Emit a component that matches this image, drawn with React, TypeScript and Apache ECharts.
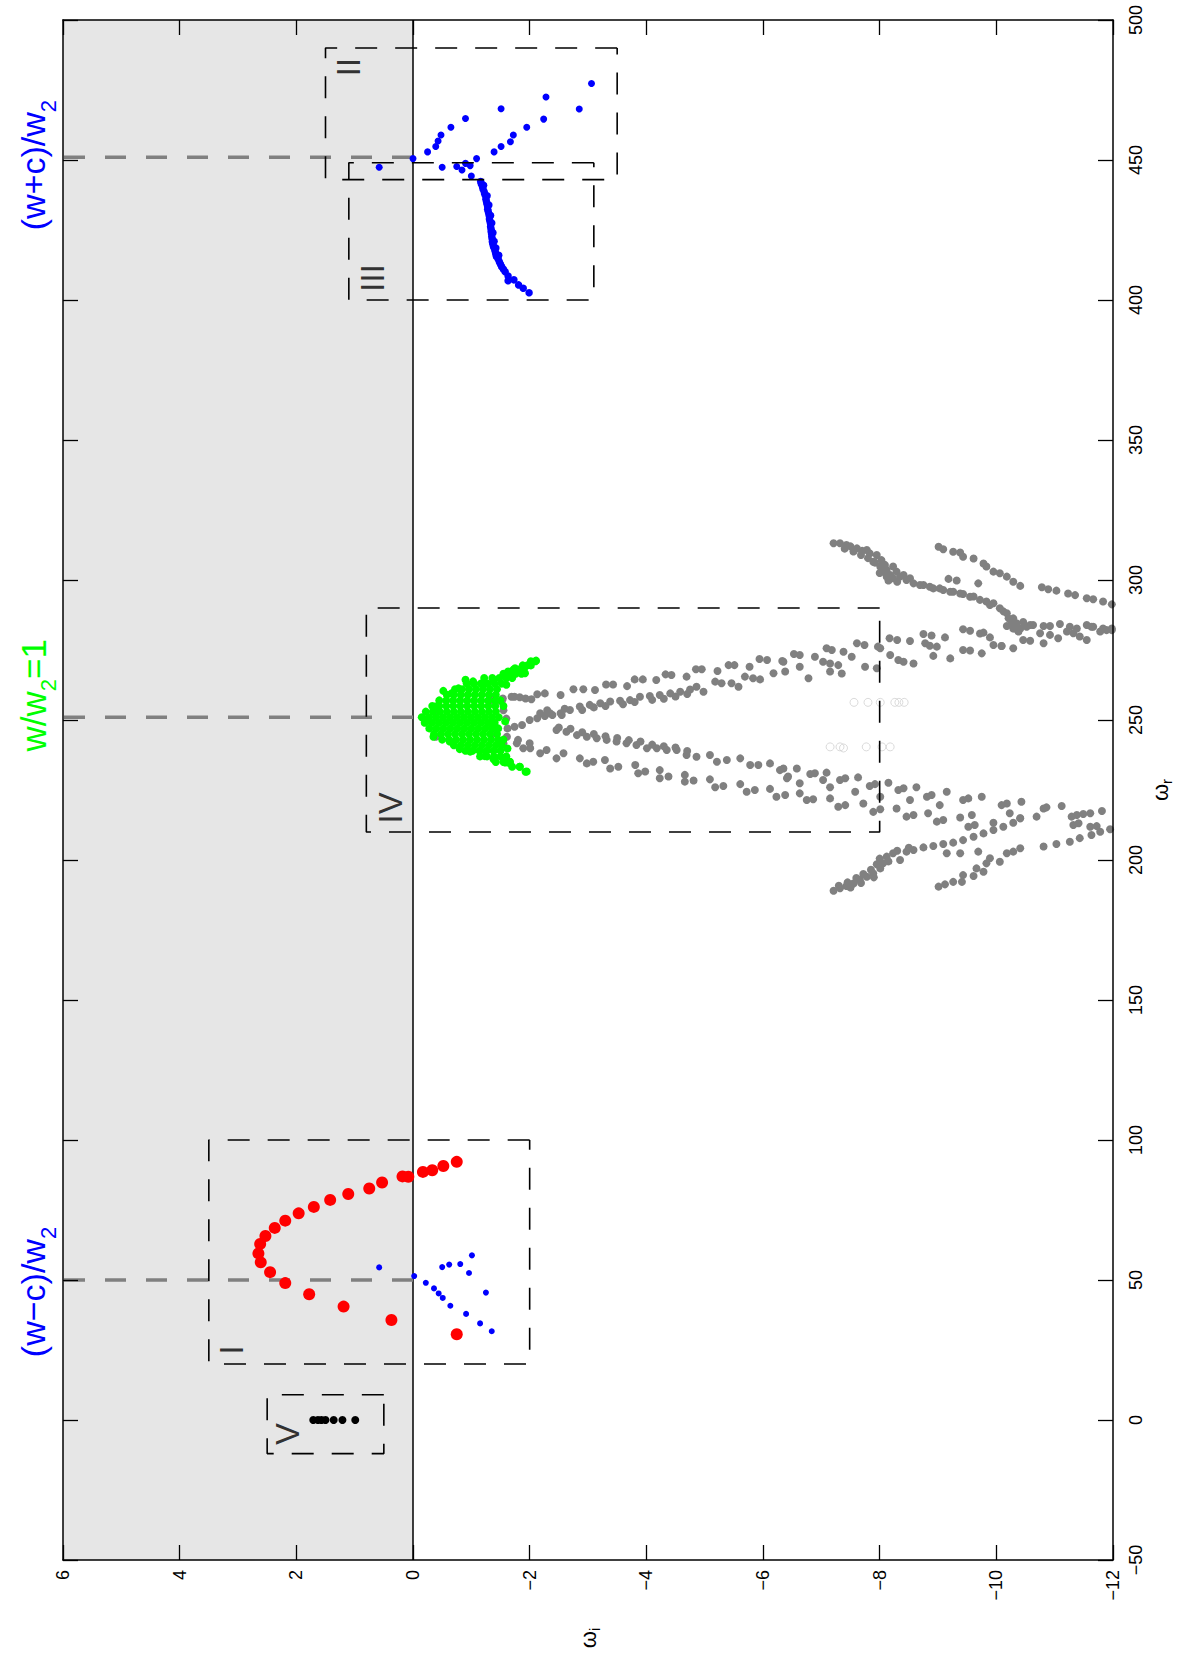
import React, { useEffect, useRef } from 'react';
import * as echarts from 'echarts';

const FONT = '"Liberation Sans", Arial, Helvetica, sans-serif';

// axis ranges (omega_i horizontal, omega_r vertical)
const omegaIRange = [-12, 6];
const omegaRRange = [-50, 500];
const omegaITicks = [-12, -10, -8, -6, -4, -2, 0, 2, 4, 6];
const omegaRTicks = [-50, 0, 50, 100, 150, 200, 250, 300, 350, 400, 450, 500];

// [omega_i, omega_r]
const redPoints = [
  [-0.75, 92.2], [-0.52, 90.7], [-0.33, 89.2], [-0.17, 88.6], [0.08, 86.9], [0.18, 87.0], [0.53, 84.8],
  [0.75, 82.7], [1.11, 80.7], [1.42, 78.6], [1.7, 76.1], [1.96, 73.8], [2.19, 71.2], [2.37, 68.6],
  [2.53, 65.7], [2.62, 62.9], [2.65, 59.5], [2.61, 56.3], [2.45, 52.8], [2.19, 48.9], [1.78, 44.9],
  [1.19, 40.5], [0.37, 35.7], [-0.75, 30.6],
];

const blueIPoints = [
  [0.58, 54.5], [-0.02, 51.4], [-0.22, 49.0], [-0.36, 47.0], [-0.44, 45.2], [-0.51, 43.6], [-0.64, 40.8],
  [-0.91, 37.9], [-1.15, 34.5], [-1.35, 31.7], [-0.5, 54.6], [-0.62, 55.5], [-0.81, 55.7], [-1.01, 58.8],
  [-0.96, 52.5], [-1.25, 45.5],
];

const blackVPoints = [[1.71, 0], [1.63, 0], [1.57, 0], [1.5, 0], [1.36, 0], [1.21, 0], [0.99, 0]];

const blueIIPoints = [
  [0.58, 447.4], [0.0, 450.5], [-0.25, 452.9], [-0.39, 454.8], [-0.43, 456.8], [-0.48, 458.9], [-0.65, 461.7],
  [-0.9, 464.8], [-1.51, 468.3], [-2.28, 472.5], [-3.06, 477.3], [-2.85, 468.2], [-2.24, 464.6], [-1.95, 461.7],
  [-1.72, 458.9], [-1.67, 456.5], [-1.51, 454.8], [-1.39, 452.9], [-1.09, 450.5], [-0.9, 448.8], [-0.98, 448.0],
  [-0.84, 446.4], [-0.75, 447.7], [-0.5, 447.4], [-1.0, 444.3],
];

const blueIIIPoints = [
  [-1.16, 442.3], [-1.17, 441.5], [-1.19, 440.5], [-1.2, 439.6], [-1.22, 438.7], [-1.23, 437.8], [-1.25, 436.9],
  [-1.25, 436.0], [-1.26, 435.1], [-1.27, 434.2], [-1.28, 433.3], [-1.28, 432.4], [-1.29, 431.6], [-1.3, 430.7],
  [-1.31, 429.8], [-1.31, 428.9], [-1.32, 428.0], [-1.33, 427.1], [-1.33, 426.2], [-1.34, 425.3], [-1.34, 424.4],
  [-1.35, 423.5], [-1.35, 422.6], [-1.36, 421.7], [-1.36, 420.8], [-1.37, 419.9], [-1.38, 419.0], [-1.4, 418.1],
  [-1.41, 417.3], [-1.42, 416.4], [-1.43, 415.5], [-1.46, 414.6], [-1.48, 413.7], [-1.5, 412.8], [-1.52, 411.9],
  [-1.55, 411.0], [-1.58, 410.1], [-1.63, 408.6], [-1.63, 406.9], [-1.73, 407.2], [-1.81, 405.4], [-1.89, 404.2],
  [-1.99, 402.6], [-1.21, 441.0], [-1.27, 437.2], [-1.3, 433.9], [-1.33, 430.2], [-1.35, 427.5], [-1.37, 424.0],
  [-1.39, 421.0], [-1.42, 418.6], [-1.47, 416.0],
];

const faintCircles = [
  [-7.56, 256.3], [-7.8, 256.3], [-8.01, 256.3], [-8.26, 256.3], [-8.33, 256.3], [-8.42, 256.3],
  [-7.15, 240.4], [-7.32, 240.4], [-7.38, 240.0], [-7.77, 240.4], [-8.04, 240.4], [-8.18, 240.4],
];

// green cluster, rows of [omega_r, omega_i list]
const greenRows: [number, number[]][] = [
  [271, [-2.1, -2.02]],
  [269.5, [-1.88, -1.96, -2.02]],
  [268, [-1.72, -1.82, -1.9]],
  [266.5, [-1.55, -1.66, -1.76, -1.86]],
  [265, [-1.22, -1.36, -1.48, -1.6, -1.7]],
  [263, [-0.92, -1.04, -1.16, -1.28, -1.4, -1.52]],
  [261, [-0.72, -0.84, -0.96, -1.08, -1.2, -1.32, -1.44]],
  [259, [-0.58, -0.7, -0.82, -0.94, -1.06, -1.18, -1.3, -1.42]],
  [257, [-0.45, -0.57, -0.69, -0.81, -0.93, -1.05, -1.17, -1.29, -1.41, -1.5]],
  [255, [-0.33, -0.45, -0.57, -0.69, -0.81, -0.93, -1.05, -1.17, -1.29, -1.41]],
  [253, [-0.22, -0.34, -0.46, -0.58, -0.7, -0.82, -0.94, -1.06, -1.18, -1.3, -1.42]],
  [251, [-0.15, -0.27, -0.39, -0.51, -0.63, -0.75, -0.87, -0.99, -1.11, -1.23, -1.35, -1.47]],
  [249, [-0.2, -0.32, -0.44, -0.56, -0.68, -0.8, -0.92, -1.04, -1.16, -1.28, -1.4]],
  [247, [-0.28, -0.4, -0.52, -0.64, -0.76, -0.88, -1.0, -1.12, -1.24, -1.36, -1.46]],
  [245, [-0.36, -0.48, -0.6, -0.72, -0.84, -0.96, -1.08, -1.2, -1.32, -1.44]],
  [243, [-0.5, -0.62, -0.74, -0.86, -0.98, -1.1, -1.22, -1.34, -1.46, -1.55]],
  [241, [-0.7, -0.82, -0.94, -1.06, -1.18, -1.3, -1.42, -1.52]],
  [239, [-0.9, -1.02, -1.14, -1.26, -1.38, -1.5]],
  [237, [-1.15, -1.27, -1.39, -1.5, -1.6]],
  [235, [-1.42, -1.55, -1.66]],
  [233.3, [-1.7, -1.83]],
  [231.5, [-1.93]],
];
// ragged edge points of the green cluster
const greenEdge = [
  [-2.11, 271.2], [-1.99, 269.7], [-1.92, 266.7], [-1.75, 268.5], [-1.63, 267.3], [-1.38, 264.3], [-1.23, 263.1],
  [-1.03, 263.8], [-0.78, 261.3], [-0.66, 259.5], [-0.38, 254.8], [-1.38, 247.9], [-1.35, 248.2], [-1.49, 241.7],
  [-0.98, 238.7], [-1.23, 237.1], [-1.38, 236.0], [-1.58, 234.8], [-1.66, 234.5], [-1.83, 233.3], [-1.95, 231.6],
  [-1.66, 235.1], [-0.63, 242.3], [-0.35, 244.0], [-1.55, 255.0], [-1.58, 249.5], [-0.52, 260.4], [-0.9, 264.4],
  [-1.6, 262.6], [-1.62, 239.8], [-0.8, 239.6],
];

const grayVertex = [
  [-1.74, 247.6], [-1.87, 248.2], [-2.0, 250.0], [-2.13, 250.6], [-2.26, 251.4], [-2.39, 251.8], [-2.53, 252.4],
  [-1.41, 245.2], [-1.61, 244.0], [-1.8, 242.9], [-2.0, 241.7], [-0.39, 244.0], [-0.23, 250.0], [-0.36, 253.0],
  [-1.34, 258.3], [-1.54, 257.7], [-1.74, 258.3], [-1.93, 257.7], [-1.6, 250.5], [-1.55, 253.5], [-1.62, 247.0],
];

const grayUpperA = [
  [-1.34, 257.1], [-1.52, 256.6], [-1.69, 258.3], [-1.83, 258.1], [-2.03, 257.4], [-2.13, 259.2], [-2.26, 259.5],
  [-2.53, 258.9], [-2.75, 261.0], [-2.92, 261.0], [-3.12, 260.7], [-3.31, 262.7], [-3.43, 262.7], [-3.67, 262.1],
  [-3.8, 264.5], [-3.94, 264.5], [-4.17, 264.3], [-4.33, 266.3], [-4.43, 266.1], [-4.69, 265.5], [-4.85, 268.1],
  [-4.95, 268.1], [-5.22, 267.5], [-5.41, 269.6], [-5.51, 269.6], [-5.77, 269.0], [-5.94, 271.8], [-6.07, 271.4],
  [-6.33, 271.1], [-6.53, 273.6], [-6.63, 273.2], [-6.89, 272.6], [-7.09, 275.6], [-7.18, 275.0], [-7.38, 274.4],
  [-7.61, 277.4], [-7.74, 276.8], [-7.97, 276.2], [-8.17, 279.2], [-8.3, 278.6], [-8.52, 278.2], [-8.75, 280.7],
  [-8.89, 280.2], [-9.12, 279.5], [-9.43, 282.4], [-9.55, 281.9], [-9.78, 281.2], [-10.18, 283.6], [-10.29, 282.7],
];

const grayUpperMid = [
  [-6.35, 270.8], [-6.63, 269.0], [-7.03, 270.8], [-7.15, 270.2], [-7.29, 269.6], [-7.52, 272.6], [-8.01, 275.6],
  [-8.18, 273.2], [-8.32, 271.4], [-8.78, 277.4], [-8.86, 276.5], [-8.98, 276.2], [-9.43, 275.0], [-9.72, 280.9],
  [-9.89, 279.5], [-9.95, 276.8], [-10.09, 276.4], [-10.46, 278.6], [-10.58, 278.3],
];

const grayUpperC = [
  [-2.18, 252.4], [-2.35, 252.4], [-2.55, 251.8], [-2.69, 253.6], [-2.86, 254.8], [-3.03, 255.4], [-3.21, 256.0],
  [-3.38, 256.6], [-3.55, 256.9], [-3.72, 257.1], [-3.89, 258.3], [-4.06, 258.6], [-4.23, 258.9], [-4.41, 259.5],
  [-4.58, 260.1], [-4.75, 260.9], [-4.86, 261.9], [-4.98, 260.1],
  [-2.3, 253.5], [-2.6, 254.0], [-2.9, 253.6], [-3.1, 254.5], [-3.3, 255.0], [-3.6, 255.6], [-3.8, 256.4],
  [-4.1, 257.2], [-4.3, 257.6], [-4.5, 258.4], [-4.7, 259.3],
  [-5.18, 263.7], [-5.29, 263.1], [-5.46, 263.1], [-5.58, 261.9], [-5.69, 265.5], [-5.83, 264.9], [-5.95, 264.5],
  [-6.18, 266.7], [-6.38, 267.3], [-6.78, 264.9], [-7.15, 267.3], [-7.35, 266.6], [-7.75, 269.0], [-7.95, 268.5],
  [-8.41, 270.8], [-8.58, 270.2], [-8.92, 272.9], [-9.21, 272.0], [-9.55, 274.8], [-9.75, 273.8], [-10.09, 276.4],
  [-10.29, 275.6],
];

const grayD1 = [
  [-7.21, 313.1], [-7.32, 313.1], [-7.43, 312.5], [-7.5, 312.0], [-7.61, 311.3], [-7.7, 310.4], [-7.78, 310.7],
  [-7.83, 309.5], [-7.89, 306.5], [-7.95, 308.9], [-8.01, 304.8], [-8.03, 307.1], [-8.06, 303.0], [-8.09, 305.4],
  [-8.12, 303.6], [-8.12, 301.2], [-8.18, 301.8], [-8.23, 300.6], [-8.23, 304.8], [-8.29, 303.0], [-8.35, 301.2],
  [-8.41, 301.8], [-8.46, 300.0], [-8.52, 300.6], [-8.58, 298.8], [-8.69, 298.2], [-8.75, 298.2], [-8.86, 297.6],
  [-8.92, 297.0], [-9.03, 297.0], [-9.09, 296.4], [-9.21, 295.8], [-9.26, 295.8], [-9.38, 295.2], [-9.43, 295.0],
  [-9.55, 294.0], [-9.61, 294.1], [-9.72, 292.9], [-9.83, 292.3], [-9.89, 291.1], [-9.95, 291.7], [-10.06, 289.9],
  [-10.12, 288.8], [-10.18, 288.1], [-10.21, 286.3], [-10.26, 284.5], [-10.29, 286.3], [-10.32, 282.7],
  [-10.35, 284.5], [-10.38, 281.6], [-10.41, 282.7], [-10.46, 285.0], [-10.52, 283.3], [-10.58, 283.9],
  [-7.4, 311.2], [-7.55, 310.2], [-7.68, 308.9], [-7.8, 307.8], [-7.92, 306.2], [-8.0, 302.5], [-8.15, 299.8],
  [-8.3, 299.4],
];

const grayE1 = [
  [-9.01, 311.9], [-9.09, 311.0], [-9.26, 310.1], [-9.38, 309.8], [-9.43, 308.3], [-9.61, 307.7], [-9.78, 305.9],
  [-9.83, 304.8], [-9.95, 303.0], [-10.06, 302.4], [-10.18, 301.2], [-10.29, 299.4], [-10.41, 297.9],
  [-10.78, 297.4], [-10.89, 296.7], [-11.03, 296.2], [-11.23, 295.2], [-11.35, 294.6], [-11.55, 293.5],
  [-11.66, 293.1], [-11.83, 292.3], [-11.98, 291.3], [-9.18, 300.4], [-9.32, 299.8], [-9.69, 298.8],
];

const grayCrossRight = [
  [-10.63, 283.9], [-10.81, 283.6], [-10.92, 283.6], [-11.09, 284.3], [-11.26, 283.3], [-11.38, 282.7],
  [-11.55, 283.9], [-11.66, 283.3], [-11.83, 282.7], [-11.98, 282.1], [-10.75, 281.0], [-10.81, 277.4],
  [-10.92, 280.4], [-11.06, 279.2], [-11.21, 281.6], [-11.32, 281.0], [-11.43, 279.8], [-11.55, 278.6],
  [-11.63, 283.3], [-11.78, 281.6], [-11.89, 282.1], [-11.98, 282.7],
];

const grayLowerP = [
  [-2.46, 246.4], [-2.63, 245.8], [-2.81, 244.6], [-2.98, 244.0], [-3.15, 243.5], [-3.32, 242.9], [-3.49, 242.3],
  [-3.66, 241.7], [-3.83, 241.1], [-4.01, 239.9], [-4.18, 239.9], [-4.35, 239.3], [-4.52, 239.3], [-4.69, 237.5],
  [-4.86, 236.9], [-5.09, 237.5], [-5.21, 235.1], [-5.38, 235.7], [-5.61, 236.3], [-5.78, 233.9], [-5.92, 233.9],
  [-6.12, 234.5], [-6.29, 232.1], [-6.43, 229.8],
  [-2.5, 247.3], [-2.7, 246.9], [-2.9, 245.6], [-3.1, 245.0], [-3.3, 244.2], [-3.5, 243.6], [-3.7, 242.8],
  [-3.9, 242.3], [-4.1, 241.2], [-4.3, 240.6], [-4.5, 240.2], [-4.7, 238.9],
  [-6.35, 232.7], [-6.58, 232.7], [-6.81, 230.7], [-6.89, 231.0], [-7.09, 231.2], [-7.32, 228.6], [-7.41, 229.2],
  [-7.63, 229.5], [-7.83, 226.4], [-7.92, 227.1], [-8.15, 227.6], [-8.32, 225.0], [-8.41, 225.6], [-8.63, 226.0],
  [-8.81, 222.6], [-8.89, 223.2], [-9.15, 224.4], [-9.43, 221.4], [-9.52, 222.0], [-9.75, 222.6], [-10.09, 219.6],
  [-10.18, 220.2], [-10.43, 220.8], [-10.81, 218.4], [-10.86, 218.8], [-11.12, 219.3], [-11.29, 215.5],
  [-11.38, 216.1], [-11.49, 216.4], [-11.61, 216.7], [-11.81, 217.5],
];

const grayLowerR = [
  [-6.41, 229.2], [-6.63, 227.4], [-7.03, 228.6], [-7.15, 226.0], [-7.58, 224.4], [-8.01, 222.6], [-8.52, 221.4],
  [-9.03, 219.6], [-9.58, 216.1], [-10.23, 216.7], [-10.41, 214.9], [-10.69, 215.5],
];

const grayLowerQ = [
  [-1.55, 241.7], [-1.78, 241.7], [-1.89, 239.9], [-2.01, 239.9], [-2.18, 238.1], [-2.29, 239.3], [-2.46, 236.3],
  [-2.58, 238.1], [-2.86, 236.3], [-2.98, 234.5], [-3.09, 235.1], [-3.29, 235.7], [-3.38, 232.7], [-3.52, 233.3],
  [-3.81, 233.9], [-3.86, 231.0], [-3.98, 231.6], [-4.23, 232.1], [-4.23, 229.2], [-4.38, 229.8], [-4.66, 230.4],
  [-4.66, 228.0], [-4.81, 228.4], [-5.09, 228.8], [-5.18, 226.0], [-5.32, 226.4], [-5.61, 227.1], [-5.72, 224.4],
  [-5.86, 225.0], [-6.12, 225.4], [-6.23, 222.6], [-6.38, 223.2],
  [-6.63, 223.8], [-6.75, 221.4], [-6.86, 221.7], [-7.15, 222.0], [-7.29, 219.0], [-7.41, 219.6], [-7.72, 220.2],
  [-7.89, 217.2], [-8.01, 218.1], [-8.29, 218.4], [-8.46, 215.5], [-8.58, 216.1], [-8.83, 216.7], [-8.98, 213.7],
  [-9.09, 214.3], [-9.38, 215.2], [-9.52, 211.9], [-9.63, 212.5], [-9.95, 213.3], [-11.32, 212.5], [-11.41, 213.1],
  [-11.61, 211.9], [-11.72, 212.1],
];

const grayD2 = [
  [-7.21, 189.0], [-7.32, 189.9], [-7.43, 190.7], [-7.55, 191.6], [-7.66, 192.9], [-7.78, 194.0], [-7.89, 195.2],
  [-8.01, 197.0], [-8.06, 198.8], [-8.12, 201.2], [-8.23, 202.4], [-8.35, 200.0], [-8.46, 203.0], [-8.58, 203.6],
  [-8.75, 204.5], [-8.92, 205.0], [-9.09, 205.7], [-9.26, 206.2], [-9.43, 207.1], [-9.61, 208.3], [-9.78, 209.5],
  [-9.95, 210.7], [-10.12, 211.9], [-10.29, 213.3], [-10.41, 214.9], [-9.15, 202.4], [-9.38, 202.4], [-9.69, 203.0],
  [-7.3, 190.8], [-7.45, 192.0], [-7.6, 193.6], [-7.72, 195.0], [-7.85, 196.5], [-7.95, 198.5], [-8.0, 200.5],
  [-8.15, 199.5], [-8.3, 203.3], [-8.5, 204.4], [-7.5, 190.2], [-7.68, 191.8], [-7.9, 193.8],
];

const grayE2 = [
  [-9.01, 190.5], [-9.12, 191.3], [-9.26, 192.2], [-9.41, 192.2], [-9.43, 194.6], [-9.61, 194.3], [-9.66, 197.0],
  [-9.78, 195.8], [-9.83, 198.8], [-9.89, 200.6], [-10.06, 199.4], [-10.18, 202.4], [-10.29, 203.0],
  [-10.41, 204.2], [-10.81, 204.8], [-11.03, 205.7], [-11.26, 206.5], [-11.43, 207.8], [-11.63, 208.9],
  [-11.78, 210.1], [-11.95, 211.0],
];

// dashed boxes: [omega_i min, omega_i max, omega_r min, omega_r max]
const boxI = [-2, 3.5, 20, 100];
const boxII = [-3.5, 1.5, 443, 490];
const boxIII = [-3.1, 1.1, 400, 449];
const boxIV = [-8, 0.8, 210, 290];
const boxV = [0.5, 2.5, -12, 9];

// gray dashed guide lines at these omega_r values, from omega_i = 0 to 6
const guideOmegaR = [451, 251, 50];

// roman numeral labels [omega_i, omega_r, text]
const romanLabels: [number, number, string][] = [
  [1.11, 483.2, 'II'],
  [0.7, 407.9, 'III'],
  [0.39, 218.6, 'IV'],
  [3.12, 25.0, 'I'],
  [2.16, -5.0, 'V'],
];

const minusFmt = (v: number) => String(v).replace('-', '\u2212');

function rectPath(b: number[]) {
  const [x1, x2, y1, y2] = b;
  return [[x1, y2], [x2, y2], [x2, y1], [x1, y1], [x1, y2]];
}

function scatter(name: string, data: any[], color: string, size: number, z: number) {
  return {
    name,
    type: 'scatter',
    data,
    symbol: 'circle',
    symbolSize: size,
    itemStyle: { color, opacity: 1 },
    silent: true,
    z,
    emphasis: { disabled: true },
  };
}

export default function App() {
  const ref = useRef<HTMLDivElement>(null);

  useEffect(() => {
    const chart = echarts.init(ref.current!, undefined, { renderer: 'svg' });

    const greenPoints = [...greenRows.flatMap(([wr, list]) => list.map((wi) => [wi, wr])), ...greenEdge];
    const grayPoints = [
      ...grayVertex, ...grayUpperA, ...grayUpperMid, ...grayUpperC, ...grayD1, ...grayE1, ...grayCrossRight,
      ...grayLowerP, ...grayLowerR, ...grayLowerQ, ...grayD2, ...grayE2,
    ];

    const axisCommon = {
      type: 'value',
      z: 10,
      splitLine: { show: false },
      axisLine: { show: true, onZero: false, lineStyle: { color: '#000', width: 1.5 } },
      axisTick: { show: true, inside: true, length: 15, lineStyle: { color: '#000', width: 1.3 } },
    };

    const boxSeries = [boxI, boxII, boxIII, boxIV, boxV].map((b, i) => ({
      name: 'box' + i,
      type: 'line',
      data: rectPath(b),
      symbol: 'none',
      silent: true,
      z: 9,
      lineStyle: { color: '#000', width: 1.6, type: [22, 18] },
    }));

    const guideSeries = guideOmegaR.map((v, i) => ({
      name: 'guide' + i,
      type: 'line',
      data: [[0, v], [6, v]],
      symbol: 'none',
      silent: true,
      z: 3,
      lineStyle: { color: '#808080', width: 3.5, type: [21, 20] },
    }));

    const option: any = {
      animation: false,
      backgroundColor: '#ffffff',
      grid: { left: 63, right: 71, top: 20, bottom: 96, containLabel: false },
      xAxis: [
        {
          ...axisCommon,
          min: omegaIRange[0], max: omegaIRange[1], interval: 2, inverse: true, position: 'bottom',
          axisLabel: { show: true, rotate: 90, margin: 10, fontSize: 18, color: '#000', fontFamily: FONT, formatter: minusFmt },
        },
        {
          ...axisCommon,
          min: omegaIRange[0], max: omegaIRange[1], interval: 2, inverse: true, position: 'top',
          axisLabel: { show: false },
        },
      ],
      yAxis: [
        {
          ...axisCommon,
          min: omegaRRange[0], max: omegaRRange[1], interval: 50, position: 'right',
          axisLabel: { show: true, rotate: 90, margin: 14, fontSize: 18, color: '#000', fontFamily: FONT, formatter: minusFmt },
        },
        {
          ...axisCommon,
          min: omegaRRange[0], max: omegaRRange[1], interval: 50, position: 'left',
          axisLabel: { show: false },
        },
      ],
      series: [
        {
          name: 'bg',
          type: 'scatter',
          data: [[6, 500]],
          symbolSize: 0,
          silent: true,
          z: 0,
          markArea: {
            silent: true,
            z: 0,
            itemStyle: { color: '#e6e6e6' },
            data: [[{ coord: [0, omegaRRange[0]] }, { coord: [6, omegaRRange[1]] }]],
          },
        },
        {
          name: 'zero',
          type: 'line',
          data: [[0, omegaRRange[0]], [0, omegaRRange[1]]],
          symbol: 'none',
          silent: true,
          z: 3,
          lineStyle: { color: '#000', width: 1.5 },
        },
        ...guideSeries,
        {
          name: 'faint',
          type: 'scatter',
          data: faintCircles,
          symbol: 'circle',
          symbolSize: 8,
          silent: true,
          z: 4,
          itemStyle: { color: 'rgba(0,0,0,0)', borderColor: '#d2d2d2', borderWidth: 1 },
        },
        scatter('gray', grayPoints, '#808080', 8, 5),
        scatter('green', greenPoints, '#00ff00', 8, 6),
        scatter('blueII', blueIIPoints, '#0000ff', 7, 7),
        scatter('blueIII', blueIIIPoints, '#0000ff', 7.5, 7),
        scatter('blueI', blueIPoints, '#0000ff', 6, 7),
        scatter('red', redPoints, '#ff0000', 12, 8),
        scatter('black', blackVPoints, '#000000', 8, 8),
        ...boxSeries,
        {
          name: 'roman',
          type: 'scatter',
          data: romanLabels.map((r) => ({ value: [r[0], r[1]], name: r[2] })),
          symbolSize: 1,
          silent: true,
          z: 10,
          itemStyle: { color: 'rgba(0,0,0,0)' },
          label: {
            show: true,
            position: 'inside',
            formatter: '{b}',
            rotate: 90,
            fontSize: 33,
            color: '#000',
            fontFamily: FONT,
          },
        },
      ],
    };

    chart.setOption(option);

    const py = (v: number) => chart.convertToPixel({ yAxisIndex: 0 }, v) as number;
    const richText = (main1: string, sub: string, main2: string, color: string, fs: number, sfs: number, pad: number) => ({
      text: `{m|${main1}}{s|${sub}}` + (main2 ? `{m|${main2}}` : ''),
      align: 'center',
      verticalAlign: 'middle',
      fill: color,
      rich: {
        m: { fontSize: fs, fontFamily: FONT, fill: color, color },
        s: { fontSize: sfs, fontFamily: FONT, fill: color, color, padding: [pad, 0, 0, 0] },
      },
    });

    chart.setOption({
      graphic: [
        { type: 'text', x: 33, y: py(guideOmegaR[0]) + 8, rotation: Math.PI / 2, z: 20, style: richText('(w+c)/w', '2', '', '#0000ff', 34, 22, 30) },
        { type: 'text', x: 33, y: py(guideOmegaR[1]) - 22, rotation: Math.PI / 2, z: 20, style: richText('w/w', '2', '=1', '#00ff00', 35, 22, 30) },
        { type: 'text', x: 33, y: py(guideOmegaR[2]) + 12, rotation: Math.PI / 2, z: 20, style: richText('(w\u2212c)/w', '2', '', '#0000ff', 34, 22, 30) },
        { type: 'text', x: 1160, y: 790, rotation: Math.PI / 2, z: 20, style: richText('\u03c9', 'r', '', '#000', 22, 15, 12) },
        { type: 'text', x: 588, y: 1638, rotation: Math.PI / 2, z: 20, style: richText('\u03c9', 'i', '', '#000', 22, 15, 12) },
      ],
    });

    return () => chart.dispose();
  }, []);

  return <div ref={ref} style={{ position: 'absolute', left: 0, top: 0, width: 1184, height: 1656 }} />;
}
